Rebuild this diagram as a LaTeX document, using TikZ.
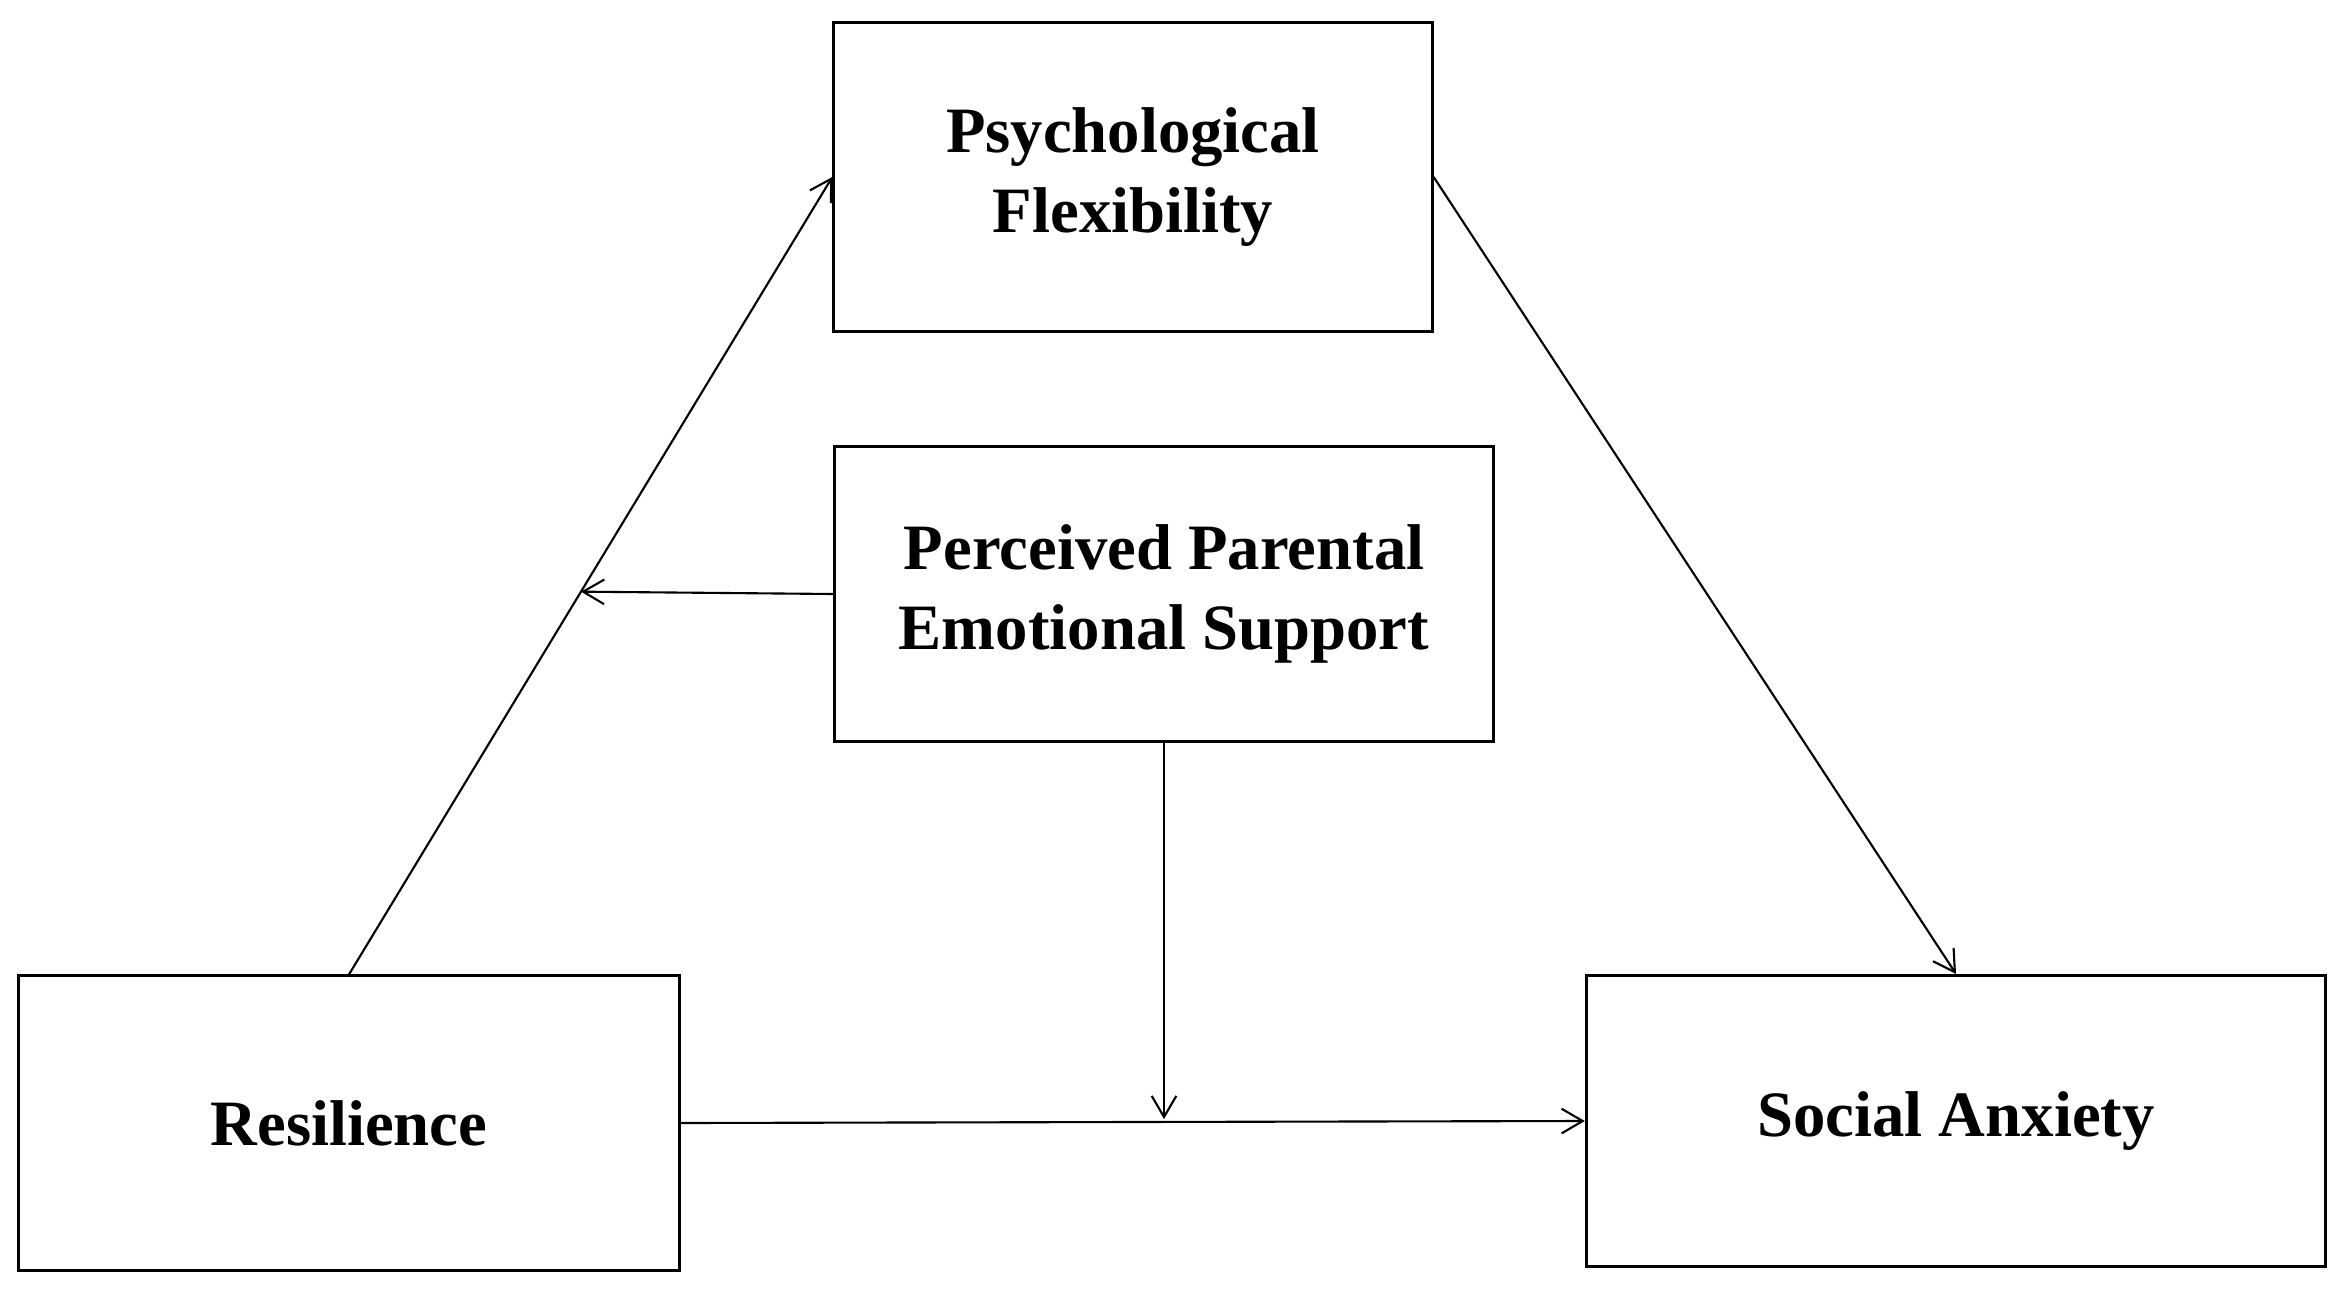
\documentclass[tikz,border=0pt]{standalone}
\usepackage{fontspec}
\setmainfont{Liberation Serif}
\usetikzlibrary{arrows.meta,calc}

\begin{document}
\begin{tikzpicture}[x=0.01cm,y=-0.01cm,
	box/.style={draw,line width=0.85pt,align=center,inner sep=0pt,
		font=\bfseries\fontsize{18.4}{22.6}\selectfont},
	path/.style={->,line width=0.6pt},
	>={Straight Barb[length=6pt,width=7pt]}]
			\useasboundingbox (0,0) rectangle (2348,1291);
			% variables
			\node[box,minimum width=5.98cm,minimum height=3.09cm] (flex) at (1133,177) {Psychological\\Flexibility};
			\node[box,minimum width=6.59cm,minimum height=2.95cm] (support) at (1164,594) {Perceived Parental\\Emotional Support};
			\node[box,minimum width=6.61cm,minimum height=2.94cm] (resil) at (349,1123) {Resilience};
			\node[box,minimum width=7.39cm,minimum height=2.91cm] (anxiety) at (1956,1121) {Social Anxiety};
			% moderation points
			\coordinate (modA) at ($(resil.north)!0.48!(flex.west)$);
			\coordinate (modB) at ($(support.south)+(0,376)$);
			% paths
			\draw [path] (resil.north) -- (flex.west);
			\draw [path] (flex.east) -- (anxiety.north);
			\draw [path] (resil.east) -- (anxiety.west);
			\draw [path] (support.west) -- (modA);
			\draw [path] (support.south) -- (modB);
		\end{tikzpicture}
\end{document}
